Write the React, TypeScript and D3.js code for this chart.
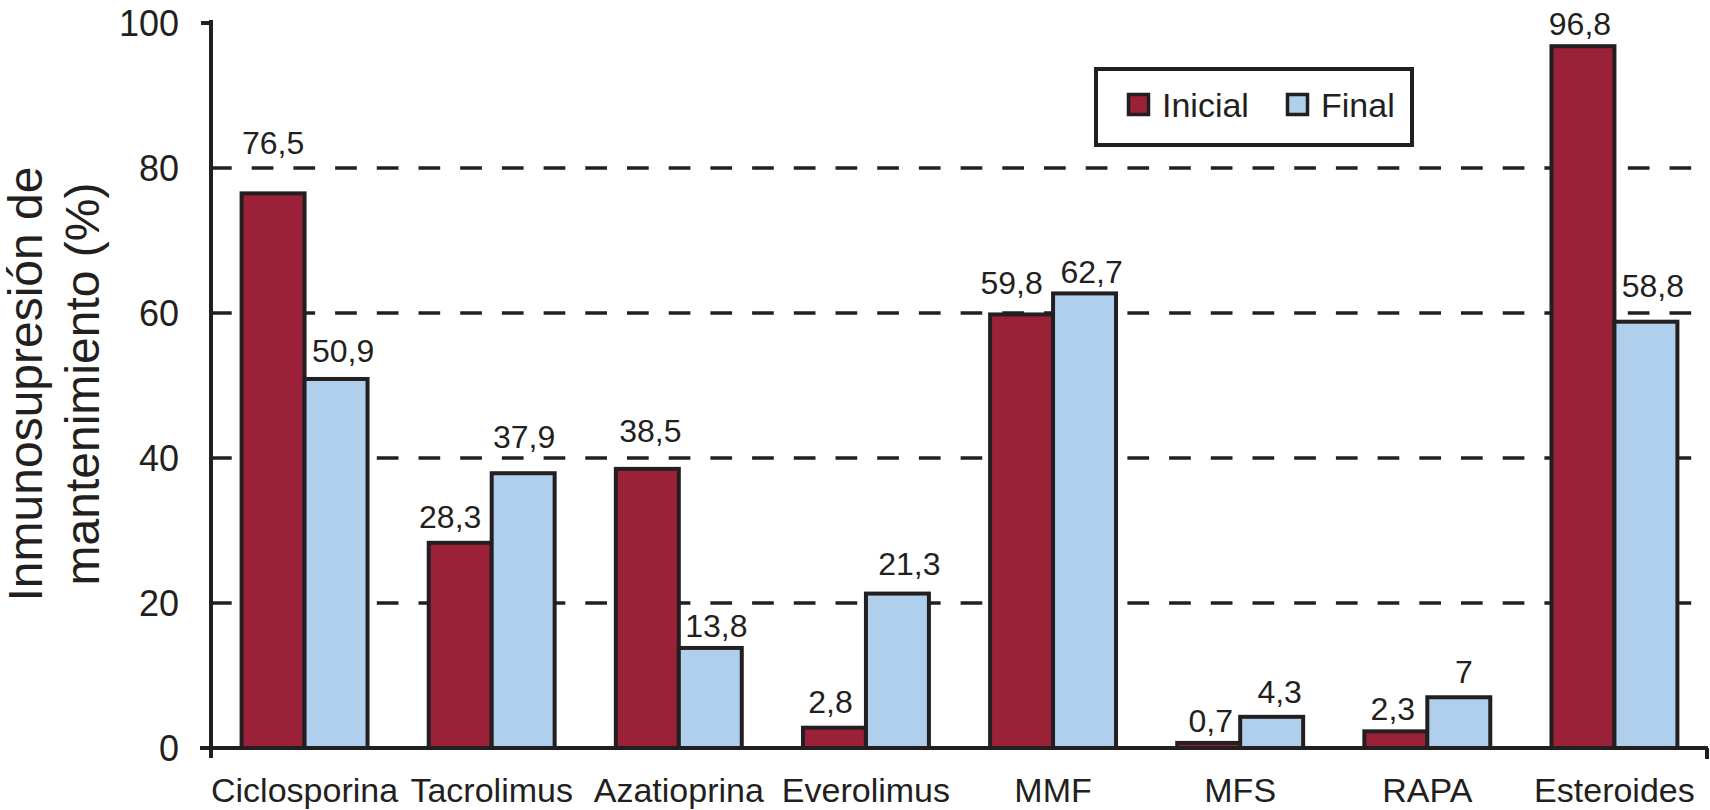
import React, { useEffect } from 'react';
import * as d3 from 'd3';

// --- data ---
const categories = ['Ciclosporina', 'Tacrolimus', 'Azatioprina', 'Everolimus', 'MMF', 'MFS', 'RAPA', 'Esteroides'];
const inicial = [76.5, 28.3, 38.5, 2.8, 59.8, 0.7, 2.3, 96.8];
const final = [50.9, 37.9, 13.8, 21.3, 62.7, 4.3, 7, 58.8];
const seriesNames = ['Inicial', 'Final'];
const yTicks = [0, 20, 40, 60, 80, 100];
const gridTicks = [20, 40, 60, 80];

// label placement tweaks (px): [dx, lift above bar top]
const nudgeInicial: [number, number][] = [[0, 39], [-10, 15], [3, 27], [-4, 15], [-10, 20], [2, 11], [-3, 11], [-3, 11]];
const nudgeFinal: [number, number][] = [[7, 17], [1, 25], [6, 11], [12, 19], [7, 10], [8, 14], [5, 14], [7, 25]];

const W = 1710;
const H = 810;
const INK = '#231f20';
const RED = '#9b2139';
const BLUE = '#afcfec';
const FONT = '"Liberation Sans", Arial, Helvetica, sans-serif';

const margin = { top: 23, right: 2, bottom: 62, left: 211 };

const fmt = (v: number) => String(v).replace('.', ',');

export default function App() {
  useEffect(() => {
    document.body.style.margin = '0';
  }, []);

  const x0 = d3.scaleBand<string>()
    .domain(categories)
    .range([margin.left, W - margin.right])
    .paddingInner(0.327)
    .paddingOuter(0.1635);

  const x1 = d3.scaleBand<string>()
    .domain(seriesNames)
    .range([0, x0.bandwidth()])
    .padding(0);

  const y = d3.scaleLinear()
    .domain([0, 100])
    .range([H - margin.bottom, margin.top]);

  const base = y(0);
  const axisX = margin.left;
  const rightX = W - margin.right;

  const series = [
    { name: 'Inicial', values: inicial, color: RED, nudge: nudgeInicial },
    { name: 'Final', values: final, color: BLUE, nudge: nudgeFinal },
  ];

  return (
    <svg width={W} height={H} style={{ display: 'block', fontFamily: FONT }}>
      <rect width={W} height={H} fill="#fff" />

      {/* dashed grid */}
      {gridTicks.map(t => (
        <line key={t} x1={axisX - 1} x2={1692} y1={y(t)} y2={y(t)}
          stroke={INK} strokeWidth={3.5} strokeDasharray="21.7,20" />
      ))}

      {/* bars */}
      {series.map(s => (
        <g key={s.name}>
          {categories.map((c, i) => (
            <rect key={c}
              x={(x0(c) || 0) + (x1(s.name) || 0)}
              y={y(s.values[i])}
              width={x1.bandwidth()}
              height={base - y(s.values[i])}
              fill={s.color}
              stroke={INK}
              strokeWidth={4} />
          ))}
        </g>
      ))}

      {/* value labels */}
      {series.map(s => (
        <g key={s.name + '-lab'} fontSize={32} fill={INK} textAnchor="middle">
          {categories.map((c, i) => (
            <text key={c}
              x={(x0(c) || 0) + (x1(s.name) || 0) + x1.bandwidth() / 2 + s.nudge[i][0]}
              y={y(s.values[i]) - s.nudge[i][1]}>
              {fmt(s.values[i])}
            </text>
          ))}
        </g>
      ))}

      {/* axes */}
      <line x1={axisX} x2={axisX} y1={20} y2={base + 10} stroke={INK} strokeWidth={4} />
      <line x1={axisX - 10} x2={axisX} y1={y(100)} y2={y(100)} stroke={INK} strokeWidth={4} />
      <line x1={axisX - 11} x2={rightX} y1={base} y2={base} stroke={INK} strokeWidth={4} />
      <line x1={rightX - 1} x2={rightX - 1} y1={base} y2={base + 11} stroke={INK} strokeWidth={4} />

      {yTicks.map(t => (
        <text key={t} x={179} y={y(t)} dy="0.36em" textAnchor="end" fontSize={36} fill={INK}>{t}</text>
      ))}

      {categories.map(c => (
        <text key={c} x={(x0(c) || 0) + x0.bandwidth() / 2} y={802} textAnchor="middle" fontSize={34} fill={INK}>{c}</text>
      ))}

      {/* y title */}
      <g transform={`translate(0,${384}) rotate(-90)`} textAnchor="middle" fontSize={48} fill={INK}>
        <text x={0} y={42}>Inmunosupresión de</text>
        <text x={0} y={99}>mantenimiento (%)</text>
      </g>

      {/* legend */}
      <g>
        <rect x={1096} y={69} width={316} height={76} fill="#fff" stroke={INK} strokeWidth={4} />
        {series.map((s, i) => {
          const sx = i === 0 ? 1127 : 1286;
          return (
            <g key={s.name + '-leg'}>
              <rect x={sx + 1.5} y={94.5} width={20} height={20} fill={s.color} stroke={INK} strokeWidth={3.5} />
              <text x={sx + 35} y={117} fontSize={34} fill={INK}>{s.name}</text>
            </g>
          );
        })}
      </g>
    </svg>
  );
}
